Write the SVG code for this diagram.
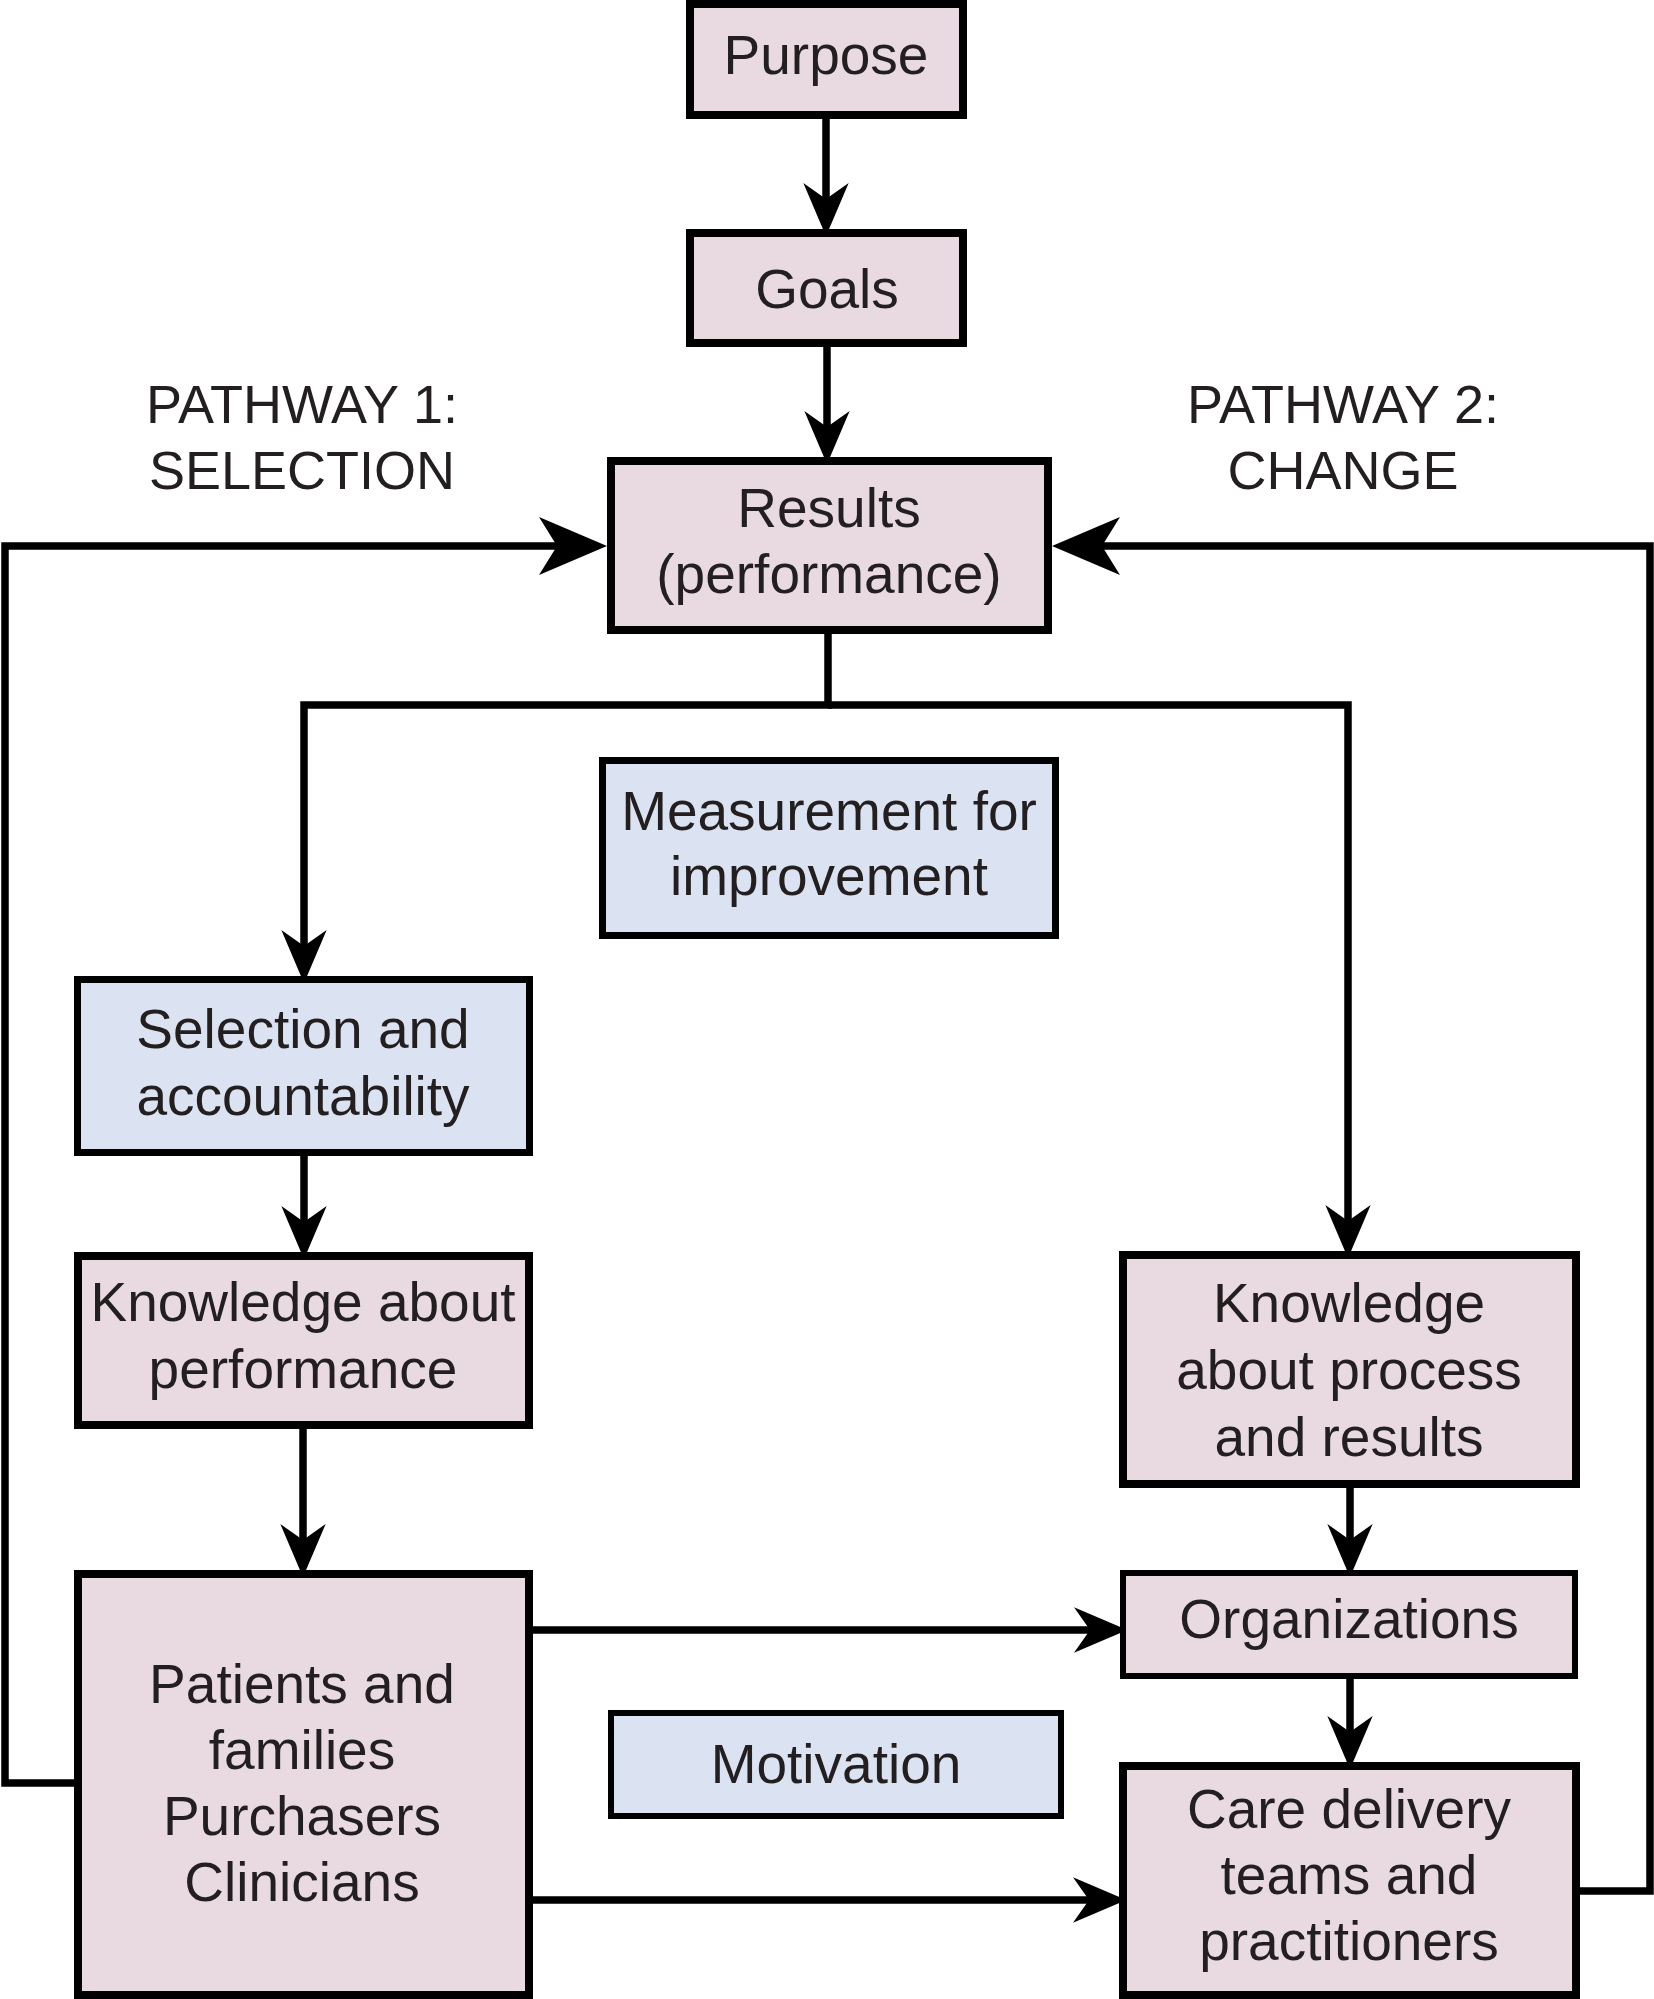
<svg xmlns="http://www.w3.org/2000/svg" width="1654" height="1999" viewBox="0 0 1654 1999">
<style>
.pink{fill:#e9dae2;stroke:#000;stroke-width:8}
.blue{fill:#dbe2f1;stroke:#000;stroke-width:7}
.thin{stroke-width:6}
.t{font-family:"Liberation Sans",Arial,sans-serif;font-size:55px;fill:#231f20;text-anchor:middle}
.lab{font-family:"Liberation Sans",Arial,sans-serif;font-size:54px;fill:#231f20;text-anchor:middle}
.c{fill:none;stroke:#000;stroke-width:7.5;stroke-linejoin:miter}
</style>
<defs>
<marker id="ah" markerUnits="userSpaceOnUse" markerWidth="80" markerHeight="80" viewBox="-30 -30 60 60" refX="0" refY="0" orient="auto" overflow="visible">
<path d="M22,0 L-18,-17 L-6,0 L-18,17 Z" fill="#000"/>
</marker>
<marker id="big" markerUnits="userSpaceOnUse" markerWidth="120" markerHeight="120" viewBox="-60 -60 120 120" refX="0" refY="0" orient="auto" overflow="visible">
<path d="M40,0 L-28,-29 L-10,0 L-28,29 Z" fill="#000"/>
</marker>
</defs>
<rect width="1654" height="1999" fill="#fff"/>
<g id="connectors">
<path class="c" d="M826,119 V207" marker-end="url(#ah)"/>
<path class="c" d="M827,347 V435" marker-end="url(#ah)"/>
<path class="c" d="M74,1783 H5 V546 H567" marker-end="url(#big)"/>
<path class="c" d="M1580,1891 H1650 V546 H1092" marker-end="url(#big)"/>
<path class="c" d="M828,634 V705 H304 V954" marker-end="url(#ah)"/>
<path class="c" d="M828,705 H1348 V1229" marker-end="url(#ah)"/>
<path class="c" d="M304,1156 V1230" marker-end="url(#ah)"/>
<path class="c" d="M303,1429 V1548" marker-end="url(#ah)"/>
<path class="c" d="M1350,1488 V1548" marker-end="url(#ah)"/>
<path class="c" d="M1350,1679 V1740" marker-end="url(#ah)"/>
<path class="c" d="M533,1630 H1098" marker-end="url(#ah)"/>
<path class="c" d="M533,1900 H1097" marker-end="url(#ah)"/>
</g>
<g id="label-pathway1">
<text class="lab" x="302" y="423">PATHWAY 1:</text>
<text class="lab" x="302" y="489">SELECTION</text>
</g>
<g id="label-pathway2">
<text class="lab" x="1343" y="423">PATHWAY 2:</text>
<text class="lab" x="1343" y="489">CHANGE</text>
</g>
<g id="purpose">
<rect class="pink" x="690" y="4" width="273" height="111"/>
<text class="t" x="826" y="74">Purpose</text>
</g>
<g id="goals">
<rect class="pink" x="690" y="233" width="273" height="110"/>
<text class="t" x="827" y="308">Goals</text>
</g>
<g id="results">
<rect class="pink" x="611" y="461" width="437" height="169"/>
<text class="t" x="829" y="527">Results</text>
<text class="t" x="829" y="593">(performance)</text>
</g>
<g id="measurement">
<rect class="blue" x="602.5" y="760.5" width="453" height="175"/>
<text class="t" x="829" y="830">Measurement for</text>
<text class="t" x="829" y="895">improvement</text>
</g>
<g id="selection">
<rect class="blue" x="77.5" y="979.5" width="452" height="173"/>
<text class="t" x="303" y="1048">Selection and</text>
<text class="t" x="303" y="1115">accountability</text>
</g>
<g id="knowledge-performance">
<rect class="pink" x="78" y="1256" width="451" height="169"/>
<text class="t" x="303" y="1321">Knowledge about</text>
<text class="t" x="303" y="1388">performance</text>
</g>
<g id="patients">
<rect class="pink" x="78" y="1574" width="451" height="421"/>
<text class="t" x="302" y="1703">Patients and</text>
<text class="t" x="302" y="1769">families</text>
<text class="t" x="302" y="1835">Purchasers</text>
<text class="t" x="302" y="1901">Clinicians</text>
</g>
<g id="motivation">
<rect class="blue thin" x="611" y="1713" width="450" height="103"/>
<text class="t" x="836" y="1783">Motivation</text>
</g>
<g id="knowledge-process">
<rect class="pink" x="1123" y="1255" width="453" height="229"/>
<text class="t" x="1349" y="1322">Knowledge</text>
<text class="t" x="1349" y="1389">about process</text>
<text class="t" x="1349" y="1456">and results</text>
</g>
<g id="organizations">
<rect class="pink thin" x="1123" y="1573" width="452" height="103"/>
<text class="t" x="1349" y="1638">Organizations</text>
</g>
<g id="care-delivery">
<rect class="pink" x="1123" y="1766" width="453" height="229"/>
<text class="t" x="1349" y="1828">Care delivery</text>
<text class="t" x="1349" y="1894">teams and</text>
<text class="t" x="1349" y="1960">practitioners</text>
</g>
</svg>
